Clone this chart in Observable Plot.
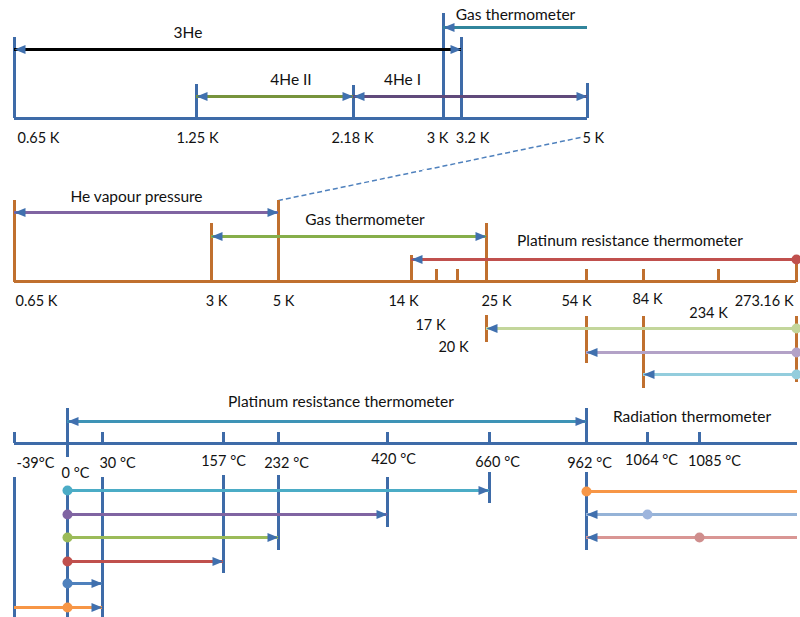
<!DOCTYPE html>
<html><head><meta charset="utf-8">
<script src="https://cdn.jsdelivr.net/npm/d3@7"></script>
<script src="https://cdn.jsdelivr.net/npm/@observablehq/plot@0.6"></script>
<style>
html,body{margin:0;padding:0;background:#fff;}
#chart{width:800px;height:617px;overflow:hidden;}
#chart svg{display:block;background:transparent;}
</style></head><body><div id="chart"></div>
<script>
// ================= DATA =================
// Panel 1: helium range, kelvin
const p1Ticks = [0.65, 1.25, 2.18, 3, 3.2, 5];
const p1TickLabels = ["0.65 K", "1.25 K", "2.18 K", "3 K", "3.2 K", "5 K"];
const p1Names = ["Gas thermometer", "3He", "4He II", "4He I"];
const p1From = [3, 0.65, 1.25, 2.18];
const p1To = [5, 3.2, 2.18, 5];
const p1Start = ["arrow", "arrow", "arrow", "arrow"];
const p1End = ["none", "arrow", "arrow", "arrow"];

// Panel 2: 0.65 K to triple point of water, kelvin
const p2Ticks = [0.65, 3, 5, 14, 17, 20, 25, 54, 84, 234, 273.16];
const p2TickLabels = ["0.65 K", "3 K", "5 K", "14 K", "17 K", "20 K", "25 K", "54 K", "84 K", "234 K", "273.16 K"];
const p2Names = ["He vapour pressure", "Gas thermometer", "Platinum resistance thermometer", "", "", ""];
const p2From = [0.65, 3, 14, 25, 54, 84];
const p2To = [5, 25, 273.16, 273.16, 273.16, 273.16];
const p2Start = ["arrow", "arrow", "arrow", "arrow", "arrow", "arrow"];
const p2End = ["arrow", "arrow", "dot", "dot", "dot", "dot"];

// Panel 3: degrees Celsius
const p3Ticks = [-39, 0, 30, 157, 232, 420, 660, 962, 1064, 1085];
const p3TickLabels = ["-39°C", "0 °C", "30 °C", "157 °C", "232 °C", "420 °C", "660 °C", "962 °C", "1064 °C", "1085 °C"];
const p3AxisEnd = 1200;
const p3Names = ["Platinum resistance thermometer", "", "", "", "", "", "", "", "", ""];
const p3From = [0, 0, 0, 0, 0, 0, -39, 962, 962, 962];
const p3To = [962, 660, 420, 232, 157, 30, 30, p3AxisEnd, p3AxisEnd, p3AxisEnd];
const p3Start = ["arrow", "dot", "dot", "dot", "dot", "dot", "none", "dot", "arrow", "arrow"];
const p3End = ["arrow", "arrow", "arrow", "arrow", "arrow", "arrow", "arrow", "none", "none", "none"];
const p3ExtraDotRow = [6, 8, 9];
const p3ExtraDotAt = [0, 1064, 1085];
const p3GroupLabel = "Radiation thermometer";
const p3GroupFrom = 962;
const p3GroupTo = p3AxisEnd;

// connector: 5 K of panel 1 is 5 K of panel 2
const connectorT = 5;

// ================= LAYOUT & STYLE =================
const FONT = "Lato, 'Open Sans', sans-serif";
const BLUE = "#3E6BA8";
const ORANGE = "#C0702F";
const HEAD = "#4070AE";
const LW = 3;
const TICK_FS = 14.5;
const LABEL_FS = 15.5;
const W = 800;
const BANDS = [[0, 170], [170, 392], [392, 617]];  // page rows occupied by each panel

const L1 = {
  xRange: [14, 196, 353, 443, 461, 587],
  lanes: [27, 49, 96, 96],
  colors: ["#31859C", "#000000", "#77933C", "#604A7B"],
  axisY: 118,
  segments: [[[37, 118]], [[84, 118]], [[85, 118]], [[13, 118]], [[37, 118]], [[83, 118]]],
  tickY: [138, 138, 138, 138, 138, 138],
  tickDx: [3, 1, -1, -6, 11, -5],
  tickAnchor: ["start", "middle", "middle", "middle", "middle", "start"],
  labelY: [15, 33, 80, 80],
  labelDx: [0, -50, 16, -68]
};
const L2 = {
  xRange: [14, 211, 278, 411, 436, 457, 486, 586, 643, 718, 796],
  lanes: [212, 236, 259, 328, 352, 374],
  colors: ["#8064A2", "#86AE4A", "#C0504D", "#C3D69B", "#B3A2C7", "#93CDDD"],
  axisY: 281,
  segments: [[[200, 282]], [[223, 282]], [[200, 282]], [[255, 282]], [[269, 282]], [[269, 282]],
             [[223, 282], [315, 342]], [[269, 282], [316, 363]], [[269, 282], [316, 388]], [[269, 282]],
             [[255, 282], [316, 382]]],
  tickY: [301, 301, 301, 301, 325, 347, 301, 301, 299, 313, 301],
  tickDx: [1, 5, 5, -8, -6, -4, 10, -10, 4, -10, -3],
  tickAnchor: ["start", "middle", "middle", "middle", "middle", "middle", "middle", "middle", "middle", "middle", "end"],
  labelY: [197, 220, 241, 0, 0, 0],
  labelDx: [-10, 16, 26, 0, 0, 0]
};
const L3 = {
  xRange: [14, 67, 102, 223, 278, 387, 489, 586, 647, 699, 797],
  lanes: [421, 490, 514, 537, 561, 583, 607, 491, 514, 537],
  colors: ["#3E93B6", "#4BACC6", "#8064A2", "#9BBB59", "#C0504D", "#4F81BD", "#F79646", "#F79646", "#95B3D7", "#D99694"],
  extraDotColors: ["#F79646", "#9DB5DD", "#CF8E8D"],
  axisY: 443,
  segments: [[[432, 443], [477, 617]], [[408, 457], [490, 617]], [[432, 443], [477, 617]], [[432, 443], [475, 573]],
             [[432, 443], [475, 550]], [[432, 443], [477, 527]], [[432, 443], [472, 503]], [[408, 443], [472, 550]],
             [[432, 443]], [[432, 443]]],
  tickY: [463, 473, 463, 461, 463, 459, 462, 463, 460, 461],
  tickDx: [21, 8, 15, 0, 8, 6, 8, 3, 4, 15],
  tickAnchor: Array(10).fill("middle"),
  labelY: [402, 0, 0, 0, 0, 0, 0, 0, 0, 0],
  labelDx: [14, 0, 0, 0, 0, 0, 0, 0, 0, 0],
  groupLabelY: 417,
  groupLabelDx: 0
};
const CONNECTOR = {y1: 137, dx1: -7, y2: 200, color: "#4F81BD", dash: [5, 3]};

// arrowheads: tip at the data point
const rightHead = {draw(ctx) { ctx.moveTo(0, 0); ctx.lineTo(-11, -4.5); ctx.lineTo(-11, 4.5); ctx.closePath(); }};
const leftHead = {draw(ctx) { ctx.moveTo(0, 0); ctx.lineTo(11, -4.5); ctx.lineTo(11, 4.5); ctx.closePath(); }};

// x scales of the three panels (the library's own scale objects)
const xOpts1 = {type: "linear", domain: p1Ticks, range: L1.xRange, axis: null};
const xOpts2 = {type: "linear", domain: p2Ticks, range: L2.xRange, axis: null};
const xOpts3 = {type: "linear", domain: [...p3Ticks, p3AxisEnd], range: L3.xRange, axis: null};
const xs1 = Plot.scale({x: xOpts1});
const xs2 = Plot.scale({x: xOpts2});

// dashed connector from 5 K (panel 1) to 5 K (panel 2), split at the panel boundary
const cx1 = xs1.apply(connectorT) + CONNECTOR.dx1, cx2 = xs2.apply(connectorT);
const cyB = BANDS[0][1];
const cxB = cx1 + (cx2 - cx1) * (cyB - CONNECTOR.y1) / (CONNECTOR.y2 - CONNECTOR.y1);
const seg1Len = Math.hypot(cxB - cx1, cyB - CONNECTOR.y1);
const connMarks1 = [Plot.link([connectorT], {
  x1: t => xs1.invert(xs1.apply(t) + CONNECTOR.dx1), y1: () => CONNECTOR.y1, x2: () => xs1.invert(cxB), y2: () => cyB,
  stroke: CONNECTOR.color, strokeWidth: 1.5, strokeDasharray: CONNECTOR.dash.join(",")
})];
const connMarks2 = [Plot.link([connectorT], {
  x1: () => xs2.invert(cxB), y1: () => cyB, x2: t => t, y2: () => CONNECTOR.y2,
  stroke: CONNECTOR.color, strokeWidth: 1.5, strokeDasharray: CONNECTOR.dash.join(","),
  strokeDashoffset: seg1Len % (CONNECTOR.dash[0] + CONNECTOR.dash[1])
})];

function drawPanel(d, L, axisColor, xOpts, band, extraMarks) {
  const xs = Plot.scale({x: xOpts});
  const yOpts = {type: "linear", domain: band, range: [0, band[1] - band[0]], axis: null};
  const rows = d.from.map((f, i) => ({from: f, to: d.to[i], y: L.lanes[i], color: L.colors[i], start: d.start[i], end: d.end[i], name: d.names[i], i}));
  const segs = [];
  d.ticks.forEach((t, i) => (L.segments[i] || []).forEach(([a, b]) => segs.push({t, y1: a, y2: b})));
  const rHeads = [], lHeads = [], dots = [];
  rows.forEach(r => {
    if (r.start === "arrow") lHeads.push({t: r.from, y: r.y});
    if (r.end === "arrow") rHeads.push({t: r.to, y: r.y});
    if (r.start === "dot") dots.push({t: r.from, y: r.y, color: r.color});
    if (r.end === "dot") dots.push({t: r.to, y: r.y, color: r.color});
  });
  (d.extraRow || []).forEach((ri, k) => dots.push({t: d.extraAt[k], y: L.lanes[ri], color: L.extraDotColors[k]}));
  const mid = (a, b) => xs.invert((xs.apply(a) + xs.apply(b)) / 2);
  const dom = xOpts.domain;
  const marks = [
    ...(extraMarks || []),
    Plot.ruleX(segs, {x: "t", y1: "y1", y2: "y2", stroke: axisColor, strokeWidth: LW}),
    Plot.ruleY([L.axisY], {y: v => v, x1: dom[0], x2: dom[dom.length - 1], stroke: axisColor, strokeWidth: LW}),
    Plot.ruleY(rows, {y: "y", x1: "from", x2: "to", stroke: r => r.color, strokeWidth: LW}),
    Plot.dot(rHeads, {x: "t", y: "y", symbol: rightHead, fill: HEAD, stroke: "none", r: 4}),
    Plot.dot(lHeads, {x: "t", y: "y", symbol: leftHead, fill: HEAD, stroke: "none", r: 4}),
    Plot.dot(dots, {x: "t", y: "y", fill: r => r.color, stroke: "none", r: 5})
  ];
  d.ticks.forEach((t, i) => marks.push(Plot.text([t], {x: v => v, y: () => L.tickY[i], text: () => d.tickLabels[i], textAnchor: L.tickAnchor[i], dx: L.tickDx[i], fontSize: TICK_FS, fontFamily: FONT, fill: "#111"})));
  rows.forEach(r => {
    if (!r.name) return;
    marks.push(Plot.text([r], {x: q => mid(q.from, q.to), y: () => L.labelY[r.i], text: "name", textAnchor: "middle", dx: L.labelDx[r.i], fontSize: LABEL_FS, fontFamily: FONT, fill: "#111"}));
  });
  if (d.groupLabel) {
    marks.push(Plot.text([d.groupLabel], {x: () => mid(d.groupFrom, d.groupTo), y: () => L.groupLabelY, text: v => v, textAnchor: "middle", dx: L.groupLabelDx, fontSize: LABEL_FS, fontFamily: FONT, fill: "#111"}));
  }
  const svg = Plot.plot({
    width: W, height: band[1] - band[0], margin: 0, marginTop: 0, marginRight: 0, marginBottom: 0, marginLeft: 0,
    x: xOpts, y: yOpts, color: {type: "identity"},
    style: {background: "transparent", fontFamily: FONT},
    marks
  });
  document.getElementById("chart").appendChild(svg);
}

drawPanel({ticks: p1Ticks, tickLabels: p1TickLabels, names: p1Names, from: p1From, to: p1To, start: p1Start, end: p1End},
  L1, BLUE, xOpts1, BANDS[0], connMarks1);
drawPanel({ticks: p2Ticks, tickLabels: p2TickLabels, names: p2Names, from: p2From, to: p2To, start: p2Start, end: p2End},
  L2, ORANGE, xOpts2, BANDS[1], connMarks2);
drawPanel({ticks: p3Ticks, tickLabels: p3TickLabels, names: p3Names, from: p3From, to: p3To, start: p3Start, end: p3End,
  extraRow: p3ExtraDotRow, extraAt: p3ExtraDotAt, groupLabel: p3GroupLabel, groupFrom: p3GroupFrom, groupTo: p3GroupTo},
  L3, BLUE, xOpts3, BANDS[2]);
</script></body></html>
